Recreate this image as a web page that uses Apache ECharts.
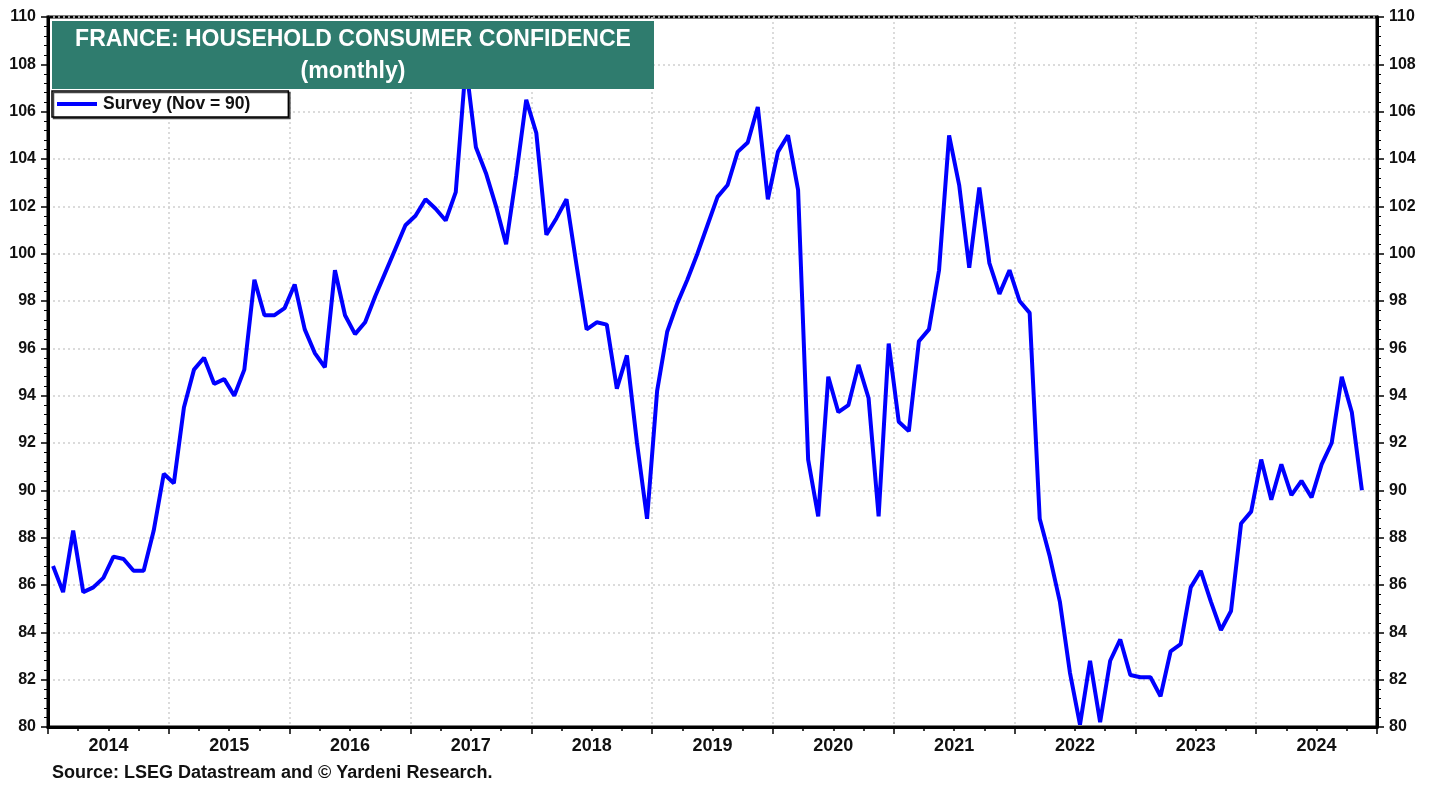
<!DOCTYPE html>
<html>
<head>
<meta charset="utf-8">
<title>France: Household Consumer Confidence</title>
<script src="https://cdn.jsdelivr.net/npm/echarts@6/dist/echarts.min.js"></script>
<style>
  html, body { margin: 0; padding: 0; background: #fff; }
  #chart { width: 1438px; height: 787px; }
</style>
</head>
<body>
<div id="chart"></div>
<script>
// year labels, one band per year (Jan 2014 .. Dec 2024)
const years = ["2014", "2015", "2016", "2017", "2018", "2019", "2020", "2021", "2022", "2023", "2024"];

// monthly survey values, Jan .. Dec of each year
const y2014 = [86.8, 85.7, 88.3, 85.7, 85.9, 86.3, 87.2, 87.1, 86.6, 86.6, 88.3, 90.7];
const y2015 = [90.3, 93.5, 95.1, 95.6, 94.5, 94.7, 94.0, 95.1, 98.9, 97.4, 97.4, 97.7];
const y2016 = [98.7, 96.8, 95.8, 95.2, 99.3, 97.4, 96.6, 97.1, 98.2, 99.2, 100.2, 101.2];
const y2017 = [101.6, 102.3, 101.9, 101.4, 102.6, 108.0, 104.5, 103.4, 102.0, 100.4, 103.3, 106.5];
const y2018 = [105.1, 100.8, 101.5, 102.3, 99.5, 96.8, 97.1, 97.0, 94.3, 95.7, 92.0, 88.8];
const y2019 = [94.2, 96.7, 97.9, 98.9, 100.0, 101.2, 102.4, 102.9, 104.3, 104.7, 106.2, 102.3];
const y2020 = [104.3, 105.0, 102.7, 91.3, 88.9, 94.8, 93.3, 93.6, 95.3, 93.9, 88.9, 96.2];
const y2021 = [92.9, 92.5, 96.3, 96.8, 99.3, 105.0, 102.9, 99.4, 102.8, 99.6, 98.3, 99.3];
const y2022 = [98.0, 97.5, 88.8, 87.2, 85.3, 82.3, 80.1, 82.8, 80.2, 82.8, 83.7, 82.2];
const y2023 = [82.1, 82.1, 81.3, 83.2, 83.5, 85.9, 86.6, 85.3, 84.1, 84.9, 88.6, 89.1];
const y2024 = [91.3, 89.6, 91.1, 89.8, 90.4, 89.7, 91.1, 92.0, 94.8, 93.3, 90.0];

const survey = [].concat(y2014, y2015, y2016, y2017, y2018, y2019, y2020, y2021, y2022, y2023, y2024);

const chart = echarts.init(document.getElementById("chart"));

const FONT = "Liberation Sans, Arial, sans-serif";
const dotted = { color: "#cfcfcf", type: [2, 3], width: 1.5 };

function yAxisOf(pos) {
  return {
    type: "value",
    position: pos,
    min: 80,
    max: 110,
    interval: 2,
    axisLine: { show: true, lineStyle: { color: "#000", width: 3 } },
    axisTick: { show: true, length: 7, lineStyle: { color: "#000", width: 1.5 } },
    minorTick: { show: true, splitNumber: 5, length: 4, lineStyle: { color: "#000", width: 1 } },
    axisLabel: { margin: 12, fontFamily: FONT, fontWeight: "bold", fontSize: 16, color: "#111" },
    splitLine: { show: pos === "left", lineStyle: dotted },
  };
}

chart.setOption({
  animation: false,
  backgroundColor: "#fff",
  grid: {
    left: 48,
    right: 61,
    top: 17,
    bottom: 60,
    show: true,
    borderColor: "#000",
    borderWidth: 3,
  },
  legend: {
    left: 52,
    top: 91,
    orient: "horizontal",
    icon: "rect",
    itemWidth: 40,
    itemHeight: 4,
    itemGap: 8,
    padding: [4, 38, 4, 5],
    backgroundColor: "#fff",
    borderColor: "#000",
    borderWidth: 1.5,
    shadowColor: "#444",
    shadowOffsetX: 1.5,
    shadowOffsetY: 1.5,
    textStyle: { fontFamily: FONT, fontWeight: "bold", fontSize: 17.5, color: "#111", padding: [0, 0, 0, 1] },
    data: ["Survey (Nov = 90)"],
  },
  xAxis: [
    {
      type: "value",
      position: "bottom",
      min: 0,
      max: 132,
      interval: 12,
      axisLine: { show: true, lineStyle: { color: "#000", width: 3 } },
      axisTick: { show: true, length: 7, lineStyle: { color: "#000", width: 1.5 } },
      minorTick: { show: true, splitNumber: 4, length: 4, lineStyle: { color: "#000", width: 1.5 } },
      axisLabel: { show: false },
      splitLine: { show: true, lineStyle: dotted },
    },
    {
      type: "category",
      position: "bottom",
      data: years,
      boundaryGap: true,
      axisLine: { show: false },
      axisTick: { show: false },
      axisLabel: { margin: 10, interval: 0, fontFamily: FONT, fontWeight: "bold", fontSize: 18, color: "#111" },
      splitLine: { show: false },
    },
  ],
  yAxis: [yAxisOf("left"), yAxisOf("right")],
  series: [
    {
      name: "Survey (Nov = 90)",
      type: "line",
      xAxisIndex: 0,
      yAxisIndex: 0,
      symbol: "none",
      clip: true,
      color: "#0000ff",
      lineStyle: { color: "#0000ff", width: 4 },
      data: survey.map((v, i) => [i + 0.5, v]),
      z: 3,
    },
  ],
  graphic: {
    elements: [
      {
        type: "rect",
        left: 52,
        top: 21,
        z: 100,
        shape: { width: 602, height: 68 },
        style: { fill: "#2f7c6e" },
      },
      {
        type: "text",
        x: 353,
        y: 24,
        z: 101,
        style: {
          text: "FRANCE: HOUSEHOLD CONSUMER CONFIDENCE\n(monthly)",
          fill: "#fff",
          font: "bold 23px " + FONT,
          textAlign: "center",
          lineHeight: 32,
        },
      },
      {
        type: "text",
        left: 52,
        top: 764,
        style: {
          text: "Source: LSEG Datastream and \u00a9 Yardeni Research.",
          fill: "#111",
          font: "bold 18px " + FONT,
        },
      },
    ],
  },
});
</script>
</body>
</html>
